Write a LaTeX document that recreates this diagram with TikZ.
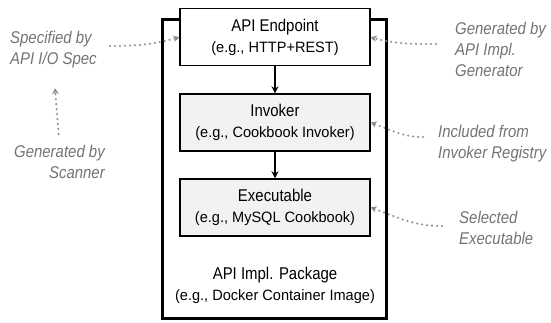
\documentclass[tikz,border=0pt]{standalone}
\usepackage{fontspec}
\setmainfont{Liberation Sans}[FakeStretch=0.88]
\newfontfamily\subfamily{Liberation Sans}[FakeStretch=0.97]
\usepackage{tikz}
\usetikzlibrary{arrows.meta}

\newcommand{\headsize}{\fontsize{17}{21}\selectfont}
\newcommand{\subsize}{\subfamily\fontsize{15}{21}\selectfont}

\begin{document}
\begin{tikzpicture}[x=1pt,y=1pt,
  part/.style={draw, line width=1.3pt, minimum width=190pt, minimum height=57pt,
    align=center, font=\headsize, inner sep=0pt, execute at begin node=\rule{0pt}{19pt}},
  flow/.style={-{Stealth[length=7pt,width=7pt]}, line width=1.3pt},
  remark/.style={text=black!55, font=\itshape\fontsize{17}{21}\selectfont, inner sep=0pt},
  hint/.style={draw=black!45, line width=2.3pt, line cap=round, dash pattern=on 0pt off 5pt,
    -{Stealth[length=6pt,width=6.5pt]}}]
  \useasboundingbox (0,0) rectangle (551,322);

  %Package
  \draw[line width=3.2pt] (162.7,3.5) rectangle (386.8,302.5);
  \node[font=\headsize, align=center, inner sep=0pt] (package) at (275,36.5)
    {API Impl. Package\\{\subsize (e.g., Docker Container Image)}};

  %Components
  \node[part, fill=white] (endpoint) at (275,284.7) {API Endpoint\\{\subsize (e.g., HTTP+REST)}};
  \node[part, fill=black!5] (invoker) at (275,199.5) {Invoker\\{\subsize (e.g., Cookbook Invoker)}};
  \node[part, fill=black!5] (executable) at (275,114.6) {Executable\\{\subsize (e.g., MySQL Cookbook)}};
  \draw[flow] (endpoint) -- (invoker);
  \draw[flow] (invoker) -- (executable);

  %Notes
  \node[remark, anchor=north west, align=left] (spec) at (10,291) {Specified by\\API I/O Spec};
  \node[remark, anchor=north east, align=right] (scanner) at (105,177) {Generated by\\Scanner};
  \node[remark, anchor=north west, align=left] (generator) at (455,300.5) {Generated by\\API Impl.\\Generator};
  \node[remark, anchor=north west, align=left] (registry) at (438,197) {Included from\\Invoker Registry};
  \node[remark, anchor=north west, align=left] (selected) at (459,111) {Selected\\Executable};

  \coordinate (specfrom) at (110,276);
  \coordinate (genfrom) at (436,278);
  \coordinate (regfrom) at (423,185);
  \coordinate (selfrom) at (442,96);
  \draw[hint] (specfrom) to[out=0,in=195] (endpoint.west);
  \draw[hint, shorten <=11pt, shorten >=20pt] (scanner.north) -- (spec.south);
  \draw[hint] (genfrom) to[out=180,in=-15] (endpoint.east);
  \draw[hint] (regfrom) to[out=180,in=-20] (invoker.east);
  \draw[hint] (selfrom) to[out=180,in=-20] (executable.east);
\end{tikzpicture}
\end{document}
